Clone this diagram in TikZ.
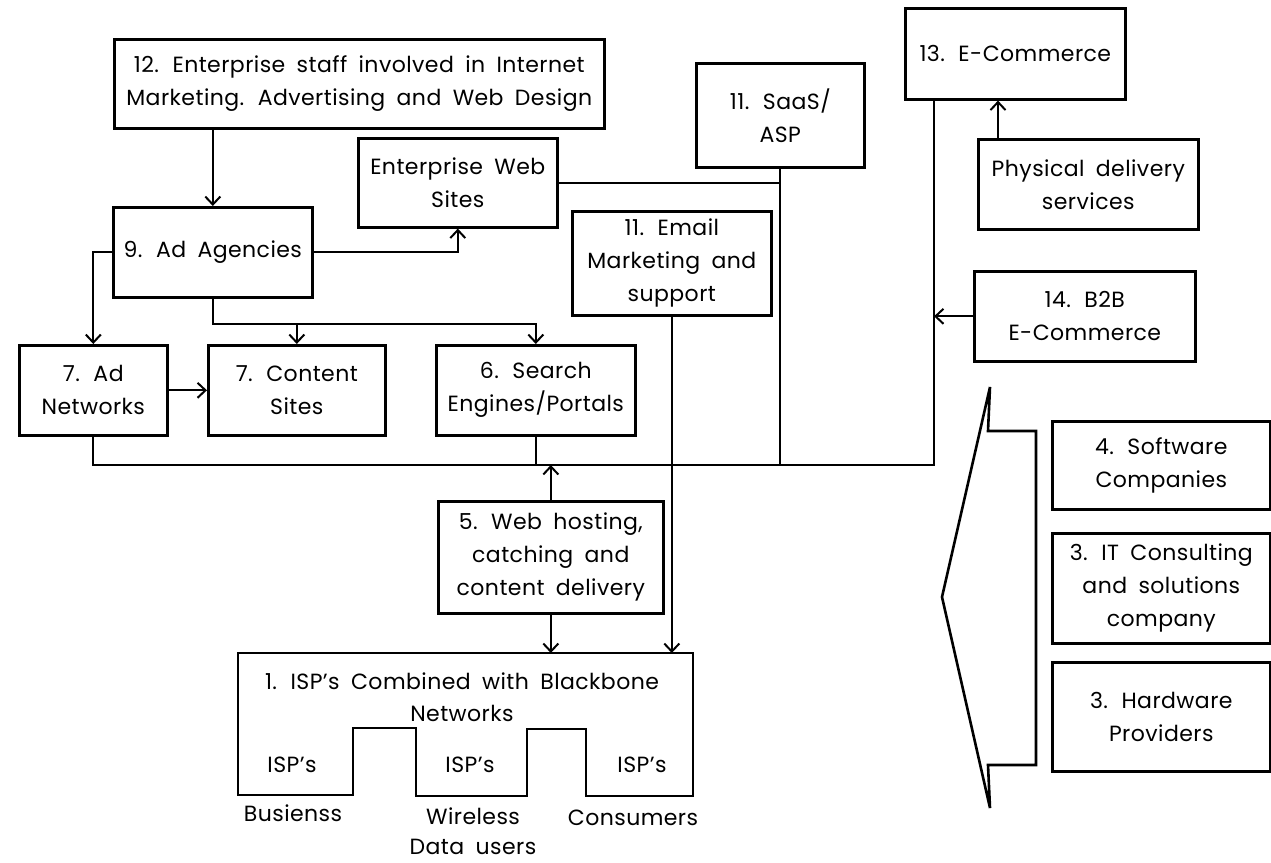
\documentclass[tikz,border=0pt]{standalone}
\usepackage{fontspec}
\setmainfont{Poppins}[LetterSpace=2,WordSpace=1.8]
\usetikzlibrary{arrows.meta,calc}
\tikzset{
  box/.style={draw, line width=2.6pt, rectangle, align=center, inner sep=0pt, font=\fontsize{22}{33}\selectfont},
  lbl/.style={align=center, inner sep=0pt, font=\fontsize{22}{32}\selectfont},
  ln/.style={line width=2pt},
  arr/.style={line width=2pt, -{Straight Barb[length=8pt,width=15pt,line width=2pt]}},
  outl/.style={draw, line width=2.6pt, line join=miter}
}
\newcommand\mkbox[6]{\node[box, anchor=north west, minimum width={#4pt-#2pt}, minimum height={#5pt-#3pt}] (#1) at (#2,#3) {#6};}
\begin{document}
\begin{tikzpicture}[x=1pt,y=-1pt]
\useasboundingbox (0,0) rectangle (1271,862);
% boxes
\mkbox{n12}{113}{38}{603}{127}{12. Enterprise staff involved in Internet\\Marketing. Advertising and Web Design}
\mkbox{ews}{357}{137}{556}{226}{Enterprise Web\\Sites}
\mkbox{saas}{695}{62}{863}{166}{11. SaaS/\\ASP}
\mkbox{ecom}{904}{7}{1124}{98}{13. E-Commerce}
\mkbox{phys}{977}{138}{1197}{228}{Physical delivery\\services}
\mkbox{b2b}{973}{270}{1194}{360}{14. B2B\\E-Commerce}
\mkbox{email}{571}{210}{770}{314}{11. Email\\Marketing and\\support}
\mkbox{ag9}{112}{206}{311}{296}{9. Ad Agencies}
\mkbox{adn}{18}{344}{166}{434}{7. Ad\\Networks}
\mkbox{cont}{207}{344}{384}{434}{7. Content\\Sites}
\mkbox{srch}{435}{344}{634}{434}{6. Search\\Engines/Portals}
\mkbox{web5}{437}{500}{662}{612}{5. Web hosting,\\catching and\\content delivery}
\mkbox{sw4}{1051}{420}{1269}{508}{4. Software\\Companies}
\mkbox{it3}{1051}{532}{1269}{642}{3. IT Consulting\\and solutions\\company}
\mkbox{hw3}{1051}{661}{1269}{770}{3. Hardware\\Providers}
% ISP block
\node[inner sep=0pt, minimum width=455pt, minimum height=143pt, anchor=north west] (isp) at (238,653) {};
\draw[outl] (238,653) -- (693,653) -- (693,796) -- (586,796) -- (586,729) -- (527,729) -- (527,796)
  -- (416,796) -- (416,728) -- (353,728) -- (353,795) -- (238,795) -- cycle;
\node[lbl] (ispt) at (462,697) {1. ISP’s Combined with Blackbone\\Networks};
\node[lbl] (isp1) at (292,765) {ISP’s};
\node[lbl] (isp2) at (470,765) {ISP’s};
\node[lbl] (isp3) at (642,765) {ISP’s};
\node[lbl] (bus) at (293,813) {Busienss};
\node[lbl, font=\fontsize{22}{30}\selectfont] (wir) at (473,831) {Wireless\\Data users};
\node[lbl] (con) at (633,818) {Consumers};
% callout arrow shape
\draw[outl] (990,387) -- (988,431) -- (1036,431) -- (1036,765) -- (988,765) -- (990,808) -- (942,597) -- cycle;
% coordinates
\coordinate (bot) at (0,465);
\coordinate (ecl) at ($(ecom.south west)+(30,0)$);
\coordinate (bus9) at ($(ag9.south)+(0,25)$);
\coordinate (pa) at ($(phys.north west)+(21,0)$);
% connectors
\draw[arr] (ag9.north |- n12.south) -- (ag9.north);
\draw[arr] (ag9.east) -| (ews.south);
\draw[arr] (ag9.west) -| (adn.north);
\draw[arr] (ag9.south) -- (bus9) -| (srch.north);
\draw[arr] (bus9 -| cont.north) -- (cont.north);
\draw[arr] (adn) -- (cont);
\draw[ln] (adn.south) |- (ecl |- bot) -- (ecl);
\draw[ln] (srch.south) -- (srch.south |- bot);
\draw[arr] (web5.north) -- (web5.north |- bot);
\draw[ln] (saas.south) -- (saas.south |- bot);
\draw[ln] (ews.east) -- (ews.east -| saas.south);
\draw[arr] (pa) -- (pa |- ecom.south);
\draw[arr] (b2b.west) -- (b2b.west -| ecl);
\draw[arr] (web5.south) -- (web5.south |- isp.north);
\draw[arr] (email.south) -- (email.south |- isp.north);
\end{tikzpicture}
\end{document}
